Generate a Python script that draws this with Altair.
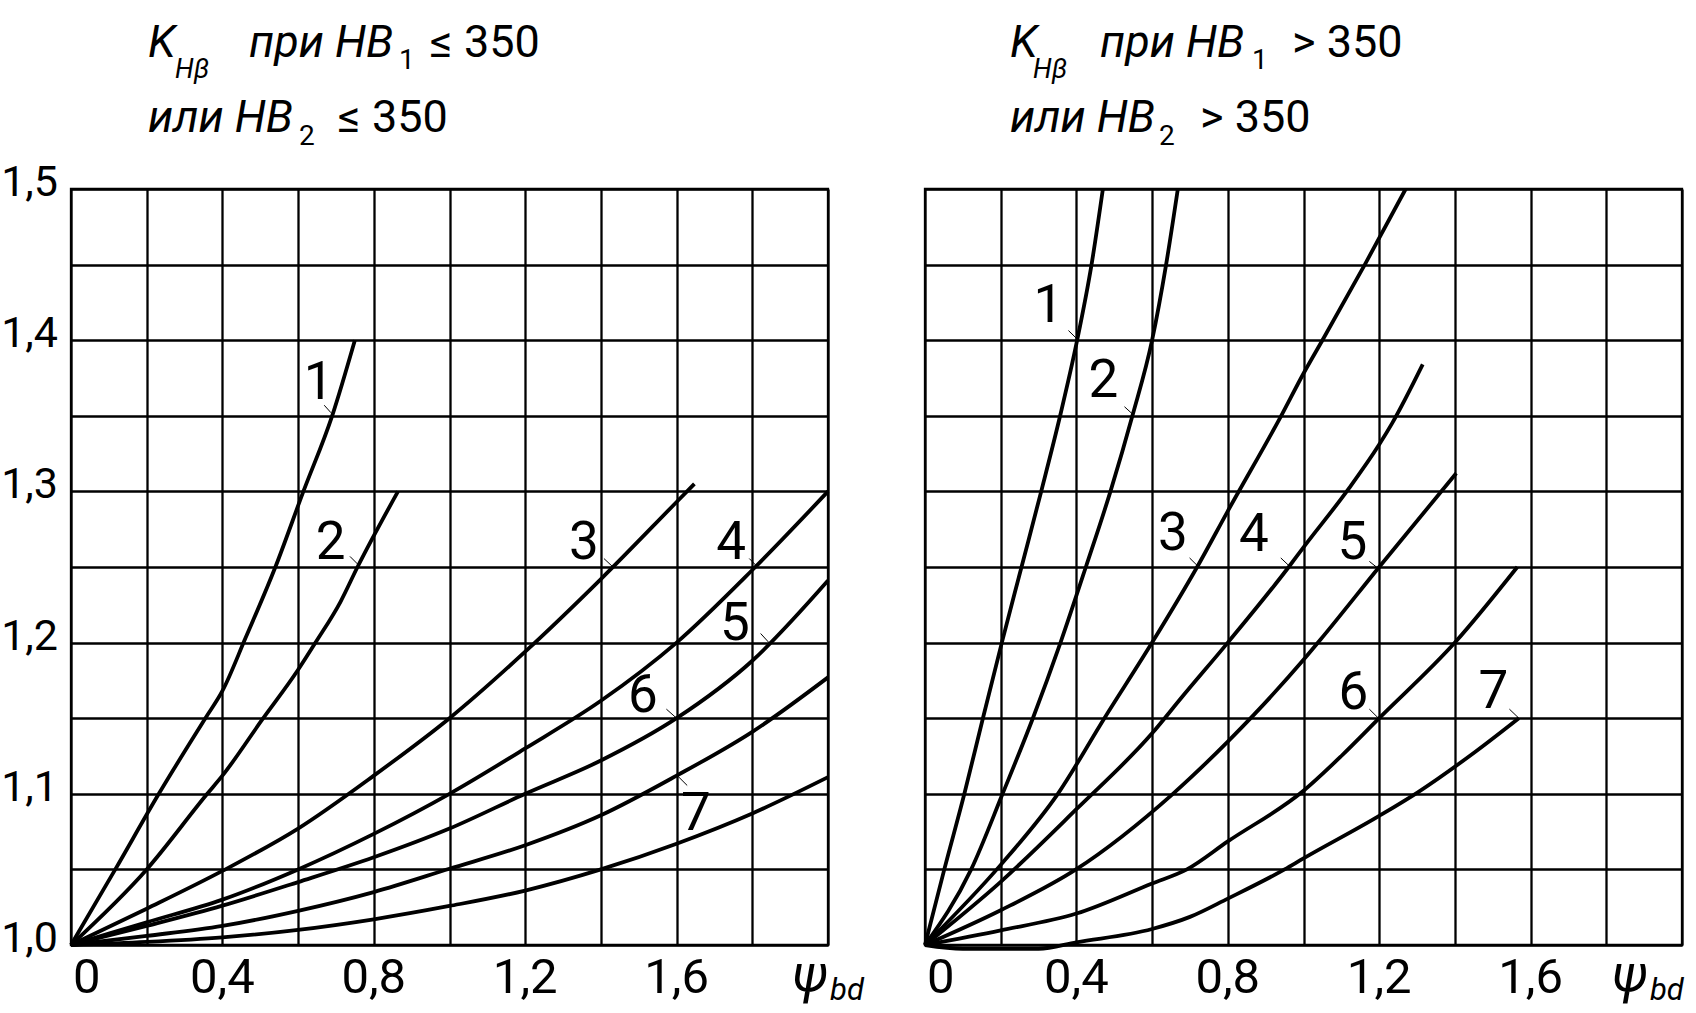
import altair as alt
import pandas as pd

FONT = "Roboto, Liberation Sans, sans-serif"

# ---------------- data: left panel (HB <= 350) ----------------
L_X = [
    [0, 0.117, 0.232, 0.355, 0.40, 0.461, 0.54, 0.614, 0.69, 0.75],
    [0, 0.2, 0.36, 0.4, 0.505, 0.6, 0.646, 0.712, 0.757, 0.864],
    [0, 0.2, 0.4, 0.6, 0.8, 1.0, 1.2, 1.4, 1.6, 1.647],
    [0, 0.2, 0.4, 0.6, 0.8, 1.0, 1.2, 1.4, 1.6, 1.8, 2.0],
    [0, 0.2, 0.4, 0.6, 0.8, 1.0, 1.2, 1.4, 1.6, 1.8, 2.0],
    [0, 0.2, 0.4, 0.6, 0.8, 1.0, 1.2, 1.4, 1.6, 1.8, 2.0],
    [0, 0.2, 0.4, 0.6, 0.8, 1.0, 1.2, 1.4, 1.6, 1.8, 2.0],
]
L_Y = [
    [1.0, 1.05, 1.10, 1.15, 1.168, 1.203, 1.25, 1.30, 1.35, 1.40],
    [1.0, 1.05, 1.10, 1.112, 1.149, 1.182, 1.20, 1.227, 1.25, 1.30],
    [1.0, 1.024, 1.049, 1.077, 1.112, 1.15, 1.194, 1.242, 1.293, 1.305],
    [1.0, 1.015, 1.030, 1.05, 1.0735, 1.10, 1.130, 1.1615, 1.20, 1.248, 1.30],
    [1.0, 1.0126, 1.026, 1.0416, 1.058, 1.077, 1.10, 1.122, 1.15, 1.188, 1.241],
    [1.0, 1.006, 1.0126, 1.0226, 1.035, 1.0504, 1.066, 1.0858, 1.112, 1.141, 1.177],
    [1.0, 1.002, 1.005, 1.010, 1.017, 1.0258, 1.036, 1.05, 1.067, 1.087, 1.111],
]
L_LAB_X = [0.654, 0.686, 1.355, 1.744, 1.754, 1.511, 1.651]
L_LAB_Y = [1.3735, 1.268, 1.268, 1.268, 1.2145, 1.1667, 1.0885]
L_TICK_X1 = [0.669, 0.737, 1.408, 1.792, 1.822, 1.573, 1.602]
L_TICK_Y1 = [1.357, 1.257, 1.2556, 1.2556, 1.206, 1.156, 1.112]
L_TICK_X2 = [0.687, 0.761, 1.432, 1.814, 1.844, 1.600, 1.628]
L_TICK_Y2 = [1.352, 1.251, 1.250, 1.250, 1.200, 1.150, 1.1055]

# ---------------- data: right panel (HB > 350) ----------------
R_X = [
    [0, 0.051, 0.104, 0.153, 0.203, 0.255, 0.307, 0.357, 0.402, 0.440, 0.47],
    [0, 0.122, 0.205, 0.285, 0.358, 0.425, 0.490, 0.548, 0.600, 0.637, 0.668],
    [0, 0.2, 0.351, 0.474, 0.60, 0.719, 0.80, 0.941, 1.0, 1.05, 1.162, 1.27],
    [0, 0.2, 0.4, 0.6, 0.679, 0.8, 0.961, 1.0, 1.12, 1.2, 1.234, 1.315],
    [0, 0.2, 0.399, 0.655, 0.80, 0.868, 1.0, 1.045, 1.2, 1.4035],
    [0, 0.2, 0.4, 0.6, 0.692, 0.8, 1.0, 1.1, 1.2, 1.4, 1.565],
    [0, 0.1, 0.3, 0.4, 0.6, 0.7, 0.8, 0.95, 1.0, 1.2, 1.302, 1.455, 1.569],
]
R_Y = [
    [1.0, 1.05, 1.10, 1.15, 1.20, 1.25, 1.30, 1.35, 1.40, 1.45, 1.50],
    [1.0, 1.05, 1.10, 1.15, 1.20, 1.25, 1.30, 1.35, 1.40, 1.45, 1.50],
    [1.0, 1.053, 1.10, 1.15, 1.20, 1.25, 1.287, 1.35, 1.378, 1.40, 1.45, 1.50],
    [1.0, 1.0418, 1.0898, 1.14, 1.164, 1.20, 1.25, 1.263, 1.302, 1.331, 1.345, 1.384],
    [1.0, 1.023, 1.05, 1.10, 1.1345, 1.152, 1.1886, 1.202, 1.25, 1.312],
    [1.0, 1.0097, 1.0208, 1.0407, 1.05, 1.0685, 1.102, 1.125, 1.15, 1.20, 1.25],
    [1.0, 0.9975, 0.9975, 1.0018, 1.0106, 1.0186, 1.0307, 1.05, 1.0573, 1.0854, 1.101, 1.128, 1.15],
]
R_LAB_X = [0.326, 0.4715, 0.6546, 0.869, 1.129, 1.132, 1.502]
R_LAB_Y = [1.4243, 1.375, 1.2738, 1.273, 1.268, 1.1684, 1.169]
R_TICK_X1 = [0.379, 0.527, 0.699, 0.940, 1.174, 1.174, 1.544]
R_TICK_Y1 = [1.4064, 1.356, 1.256, 1.256, 1.2537, 1.156, 1.156]
R_TICK_X2 = [0.401, 0.549, 0.7207, 0.961, 1.198, 1.198, 1.569]
R_TICK_Y2 = [1.401, 1.351, 1.2506, 1.251, 1.2489, 1.150, 1.150]

CURVE_NAMES = ["1", "2", "3", "4", "5", "6", "7"]

GRID_X = [0, 0.2, 0.4, 0.6, 0.8, 1.0, 1.2, 1.4, 1.6, 1.8, 2.0]
GRID_Y = [1.0, 1.05, 1.1, 1.15, 1.2, 1.25, 1.3, 1.35, 1.4, 1.45, 1.5]
X_TICK_VALUES = [0, 0.4, 0.8, 1.2, 1.6]
X_TICK_TEXT = ["0", "0,4", "0,8", "1,2", "1,6"]
Y_TICK_VALUES = [1.0, 1.1, 1.2, 1.3, 1.4, 1.5]
Y_TICK_TEXT = ["1,0", "1,1", "1,2", "1,3", "1,4", "1,5"]

W, H = 757, 756
ONE = pd.DataFrame({"a": [0]})

XSC = alt.Scale(domain=[0, 2], nice=False, zero=False)
YSC = alt.Scale(domain=[1.0, 1.5], nice=False, zero=False)
XAX = alt.Axis(values=GRID_X, grid=True, gridColor="black", gridWidth=2.3, gridOpacity=1,
               labels=False, ticks=False, domain=False, title=None)
YAX = alt.Axis(values=GRID_Y, grid=True, gridColor="black", gridWidth=2.3, gridOpacity=1,
               labels=False, ticks=False, domain=False, title=None)


def X(field):
    return alt.X(field, type="quantitative", scale=XSC, axis=XAX)


def Y(field):
    return alt.Y(field, type="quantitative", scale=YSC, axis=YAX)


def txt(s, x, y, size, italic=False, align="left"):
    return alt.Chart(ONE).mark_text(
        text=s, font=FONT, fontSize=size, fontStyle="italic" if italic else "normal",
        align=align, baseline="alphabetic", color="black"
    ).encode(x=alt.value(x), y=alt.value(y))


def title_pieces(op, xs):
    k, hb_sub, pri, sub1, op1, ili, sub2, op2 = xs
    return [
        txt("K", k, -132, 45, True),
        txt("Hβ", hb_sub, -111, 27, True),
        txt("при HB", pri, -132, 45, True),
        txt("1", sub1, -120, 28),
        txt(op + " 350", op1, -132, 45),
        txt("или HB", ili, -57, 45, True),
        txt("2", sub2, -44, 28),
        txt(op + " 350", op2, -57, 45),
    ]


def panel(cx, cy, lab_x, lab_y, tx1, ty1, tx2, ty2, op, title_x, psi_x, show_y, anchor):
    rows = []
    for name, xs, ys in zip(CURVE_NAMES, cx, cy):
        for i, (a, b) in enumerate(zip(xs, ys)):
            rows.append({"curve": name, "i": i, "x": a, "y": b})
    df = pd.DataFrame(rows)

    lines = alt.Chart(df).mark_line(
        color="black", strokeWidth=3.8, interpolate="monotone", clip=False
    ).encode(x=X("x"), y=Y("y"), detail="curve:N", order="i:Q")

    dlab = pd.DataFrame({"x": lab_x, "y": lab_y, "t": CURVE_NAMES})
    labels = alt.Chart(dlab).mark_text(
        font=FONT, fontSize=53, align="center", baseline="alphabetic", dy=19, color="black"
    ).encode(x=X("x"), y=Y("y"), text="t:N")

    dtick = pd.DataFrame({"x": tx1, "y": ty1, "x2": tx2, "y2": ty2})
    ticks = alt.Chart(dtick).mark_rule(color="black", strokeWidth=1).encode(
        x=X("x"), y=Y("y"), x2="x2:Q", y2="y2:Q"
    )

    dx0 = pd.DataFrame({"x": X_TICK_VALUES[:1], "t": X_TICK_TEXT[:1]})
    dxr = pd.DataFrame({"x": X_TICK_VALUES[1:], "t": X_TICK_TEXT[1:]})
    xl0 = alt.Chart(dx0).mark_text(
        font=FONT, fontSize=49, align="left", baseline="alphabetic", dx=2, color="black"
    ).encode(x=X("x"), y=alt.value(H + 48), text="t:N")
    xlr = alt.Chart(dxr).mark_text(
        font=FONT, fontSize=49, align="center", baseline="alphabetic", color="black"
    ).encode(x=X("x"), y=alt.value(H + 48), text="t:N")

    dpsi = pd.DataFrame({"x": [psi_x]})
    psi = alt.Chart(dpsi).mark_text(
        text="ψ", font=FONT, fontSize=52, fontStyle="italic", align="right",
        baseline="alphabetic", color="black"
    ).encode(x=X("x"), y=alt.value(H + 46))
    bd = alt.Chart(dpsi).mark_text(
        text="bd", font=FONT, fontSize=31, fontStyle="italic", align="left",
        baseline="alphabetic", dx=2, color="black"
    ).encode(x=X("x"), y=alt.value(H + 55))

    layers = [lines, ticks, labels, xl0, xlr, psi, bd] + title_pieces(op, title_x)

    if show_y:
        dy = pd.DataFrame({"y": Y_TICK_VALUES, "t": Y_TICK_TEXT})
        yl = alt.Chart(dy).mark_text(
            font=FONT, fontSize=43, align="right", baseline="alphabetic", dy=7, color="black"
        ).encode(x=alt.value(-13), y=Y("y"), text="t:N")
        layers.append(yl)
    if anchor:
        anc = alt.Chart(ONE).mark_rule(color="white", strokeWidth=1).encode(
            x=alt.value(-68), y=alt.value(-187), x2=alt.value(-67), y2=alt.value(-186)
        )
        layers.append(anc)

    return alt.layer(*layers).properties(width=W, height=H)


left = panel(L_X, L_Y, L_LAB_X, L_LAB_Y, L_TICK_X1, L_TICK_Y1, L_TICK_X2, L_TICK_Y2,
             "≤", [77, 104, 178, 328, 359, 77, 228, 267],
             2.0, True, True)
right = panel(R_X, R_Y, R_LAB_X, R_LAB_Y, R_TICK_X1, R_TICK_Y1, R_TICK_X2, R_TICK_Y2,
              ">", [85, 108, 175, 327, 367, 85, 234, 275],
              1.91, False, False)

chart = alt.hconcat(left, right, spacing=97, bounds="flush").properties(
    padding=0, background="white"
).configure_view(stroke="black", strokeWidth=2.3)

chart.save("out.html", embed_options={"renderer": "svg", "actions": False})
